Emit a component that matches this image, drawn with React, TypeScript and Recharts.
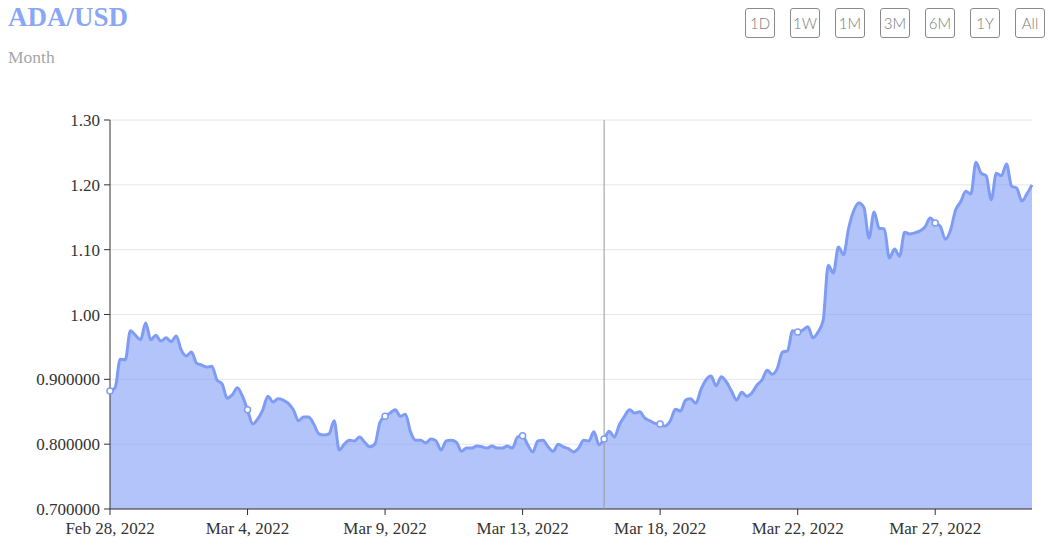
import { Area, AreaChart, CartesianGrid, Tooltip, XAxis, YAxis } from "recharts";

// ADA/USD, one value every 4 hours from Feb 28, 2022 00:00
const STEP_HOURS = 4;
const PRICES = [
  0.882, 0.887, 0.931, 0.93, 0.975, 0.968, 0.961, 0.987, 0.961, 0.968,
  0.959, 0.964, 0.958, 0.967, 0.945, 0.936, 0.942, 0.925, 0.922, 0.919,
  0.92, 0.899, 0.893, 0.871, 0.876, 0.887, 0.874, 0.853, 0.831, 0.839,
  0.853, 0.874, 0.865, 0.87, 0.868, 0.863, 0.853, 0.836, 0.842, 0.842,
  0.831, 0.816, 0.814, 0.816, 0.836, 0.791, 0.8, 0.806, 0.805, 0.811,
  0.803, 0.796, 0.8, 0.834, 0.843, 0.848, 0.853, 0.843, 0.846, 0.819,
  0.806, 0.806, 0.802, 0.808, 0.805, 0.791, 0.805, 0.806, 0.803, 0.789,
  0.794, 0.794, 0.797, 0.796, 0.794, 0.797, 0.794, 0.794, 0.797, 0.794,
  0.811, 0.813, 0.799, 0.788, 0.805, 0.806, 0.796, 0.789, 0.8, 0.796,
  0.793, 0.788, 0.794, 0.806, 0.805, 0.819, 0.799, 0.808, 0.82, 0.811,
  0.83, 0.843, 0.853, 0.848, 0.85, 0.84, 0.836, 0.832, 0.831, 0.828,
  0.836, 0.854, 0.851, 0.868, 0.87, 0.863, 0.884, 0.899, 0.905, 0.89,
  0.904, 0.896, 0.882, 0.868, 0.88, 0.874, 0.879, 0.891, 0.899, 0.914,
  0.908, 0.917, 0.942, 0.944, 0.975, 0.973, 0.976, 0.981, 0.964, 0.973,
  0.991, 1.076, 1.064, 1.104, 1.092, 1.133, 1.16, 1.172, 1.165, 1.118,
  1.158, 1.133, 1.132, 1.087, 1.101, 1.09, 1.127, 1.124, 1.126, 1.129,
  1.135, 1.149, 1.141, 1.136, 1.116, 1.13, 1.161, 1.174, 1.19, 1.186,
  1.235, 1.218, 1.214, 1.177, 1.218, 1.214, 1.232, 1.198, 1.195, 1.175,
  1.186, 1.2,
];

const X_TICKS = [0, 108, 216, 324, 432, 540, 648];
const X_TICK_LABELS = [
  "Feb 28, 2022",
  "Mar 4, 2022",
  "Mar 9, 2022",
  "Mar 13, 2022",
  "Mar 18, 2022",
  "Mar 22, 2022",
  "Mar 27, 2022",
];
const Y_TICKS = [0.7, 0.8, 0.9, 1.0, 1.1, 1.2, 1.3];
const Y_TICK_LABELS = ["0.700000", "0.800000", "0.900000", "1.00", "1.10", "1.20", "1.30"];
const RANGES = ["1D", "1W", "1M", "3M", "6M", "1Y", "All"];
const CURSOR_INDEX = 97;

const BLUE = "#7f9cf5";
const SERIF = '"Liberation Serif", "DejaVu Serif", serif';

const data = PRICES.map((price, i) => ({ t: i * STEP_HOURS, price }));

export default function App() {
  return (
    <div
      style={{
        position: "absolute",
        left: 0,
        top: 0,
        width: 1054,
        height: 555,
        background: "#fff",
        fontFamily: SERIF,
      }}
    >
      <div
        style={{
          position: "absolute",
          left: 8,
          top: 4,
          fontSize: 27,
          lineHeight: 1,
          fontWeight: 700,
          color: "#8aa6f8",
        }}
      >
        ADA/USD
      </div>
      <div
        style={{
          position: "absolute",
          left: 8,
          top: 49,
          fontSize: 17.5,
          lineHeight: 1,
          color: "#a6a6a6",
        }}
      >
        Month
      </div>
      {RANGES.map((r, i) => (
        <div
          key={r}
          style={{
            position: "absolute",
            left: 745 + i * 45,
            top: 8,
            width: 30,
            height: 30,
            boxSizing: "border-box",
            border: "1.5px solid #8a8a8a",
            borderRadius: 3,
            display: "flex",
            alignItems: "center",
            justifyContent: "center",
            fontFamily: "Lato, sans-serif",
            fontWeight: 300,
            fontSize: 15,
            color: "#7a7a7a",
          }}
        >
          {r}
        </div>
      ))}
      <AreaChart
        width={1054}
        height={555}
        data={data}
        margin={{ top: 120, right: 22, bottom: 10, left: 0 }}
        style={{ fontFamily: SERIF }}
      >
        <CartesianGrid stroke="#e6e6e6" vertical={false} />
        <XAxis
          dataKey="t"
          type="number"
          domain={[0, (PRICES.length - 1) * STEP_HOURS]}
          ticks={X_TICKS}
          tickFormatter={(v) => X_TICK_LABELS[X_TICKS.indexOf(v)]}
          stroke="#333"
          tick={{ fill: "#333", fontSize: 17, fontFamily: SERIF }}
          tickMargin={7}
          height={36}
          interval={0}
        />
        <YAxis
          type="number"
          domain={[0.7, 1.3]}
          ticks={Y_TICKS}
          tickFormatter={(v) => Y_TICK_LABELS[Y_TICKS.indexOf(v)]}
          stroke="#333"
          tick={{ fill: "#333", fontSize: 17, fontFamily: SERIF }}
          tickMargin={4}
          width={110}
          interval={0}
          allowDataOverflow
        />
        <Tooltip
          active
          defaultIndex={CURSOR_INDEX}
          cursor={{ stroke: "#999", strokeWidth: 1 }}
          content={() => null}
          isAnimationActive={false}
        />
        <Area
          type="monotone"
          dataKey="price"
          stroke={BLUE}
          strokeWidth={3}
          fill={BLUE}
          fillOpacity={0.6}
          isAnimationActive={false}
          activeDot={{ r: 3, fill: "#fff", stroke: BLUE, strokeWidth: 1.5 }}
          dot={(props: any) =>
            X_TICKS.includes(props.payload.t) ? (
              <circle
                key={`dot-${props.index}`}
                cx={props.cx}
                cy={props.cy}
                r={3}
                fill="#fff"
                stroke={BLUE}
                strokeWidth={1.5}
              />
            ) : (
              <g key={`dot-${props.index}`} />
            )
          }
        />
      </AreaChart>
    </div>
  );
}
